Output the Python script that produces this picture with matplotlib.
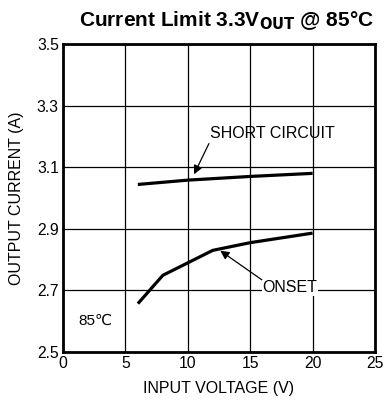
import matplotlib.pyplot as plt

plt.rcParams['font.family'] = ['Liberation Sans', 'DejaVu Sans']

# 短路电流与起始限流点 (输入电压 V, 输出电流 A)
vin_short = [6, 10, 15, 20]
iout_short = [3.044, 3.058, 3.070, 3.080]
vin_onset = [6, 8, 12, 15, 20]
iout_onset = [2.657, 2.749, 2.830, 2.855, 2.886]

xticks = [0, 5, 10, 15, 20, 25]
yticks = [2.5, 2.7, 2.9, 3.1, 3.3, 3.5]

fig = plt.figure(figsize=(3.85, 4.07), dpi=100)
ax = fig.add_axes([63 / 385, 1 - 352 / 407, 312 / 385, 308 / 407])

ax.plot(vin_short, iout_short, color='black', lw=2.3, solid_capstyle='butt')
ax.plot(vin_onset, iout_onset, color='black', lw=2.3, solid_capstyle='butt')

ax.set_xlim(0, 25)
ax.set_ylim(2.5, 3.5)
ax.set_xticks(xticks)
ax.set_yticks(yticks)
ax.set_yticklabels([f'{v:.1f}' for v in yticks])
ax.grid(True, color='black', lw=0.9)
ax.tick_params(length=0, labelsize=11.3, pad=3)
for sp in ax.spines.values():
    sp.set_linewidth(2)

ax.set_xlabel('INPUT VOLTAGE (V)', fontsize=11.5, labelpad=7)
ax.set_ylabel('OUTPUT CURRENT (A)', fontsize=11.5, labelpad=9)
ax.set_title('Current Limit 3.3V$_{\\mathbf{OUT}}$ @ 85°C', fontsize=15,
             fontweight='bold', pad=13, x=0.525)

ax.annotate('SHORT CIRCUIT', xy=(10.5, 3.077), xytext=(11.8, 3.21),
            fontsize=11.5, ha='left', va='center',
            arrowprops=dict(arrowstyle='-|>', color='black', lw=0.9,
                            mutation_scale=13, shrinkA=0, shrinkB=0,
                            relpos=(0, 0)))
ax.annotate('ONSET', xy=(12.6, 2.829), xytext=(18.2, 2.708),
            fontsize=11.5, ha='center', va='center',
            bbox=dict(boxstyle='square,pad=0.05', fc='white', ec='none'),
            arrowprops=dict(arrowstyle='-|>', color='black', lw=0.9,
                            mutation_scale=13, shrinkA=0, shrinkB=0,
                            relpos=(0, 1)))
ax.text(2.6, 2.60, '85℃', fontsize=11, ha='center', va='center')

fig.savefig('out.png', dpi=100)
